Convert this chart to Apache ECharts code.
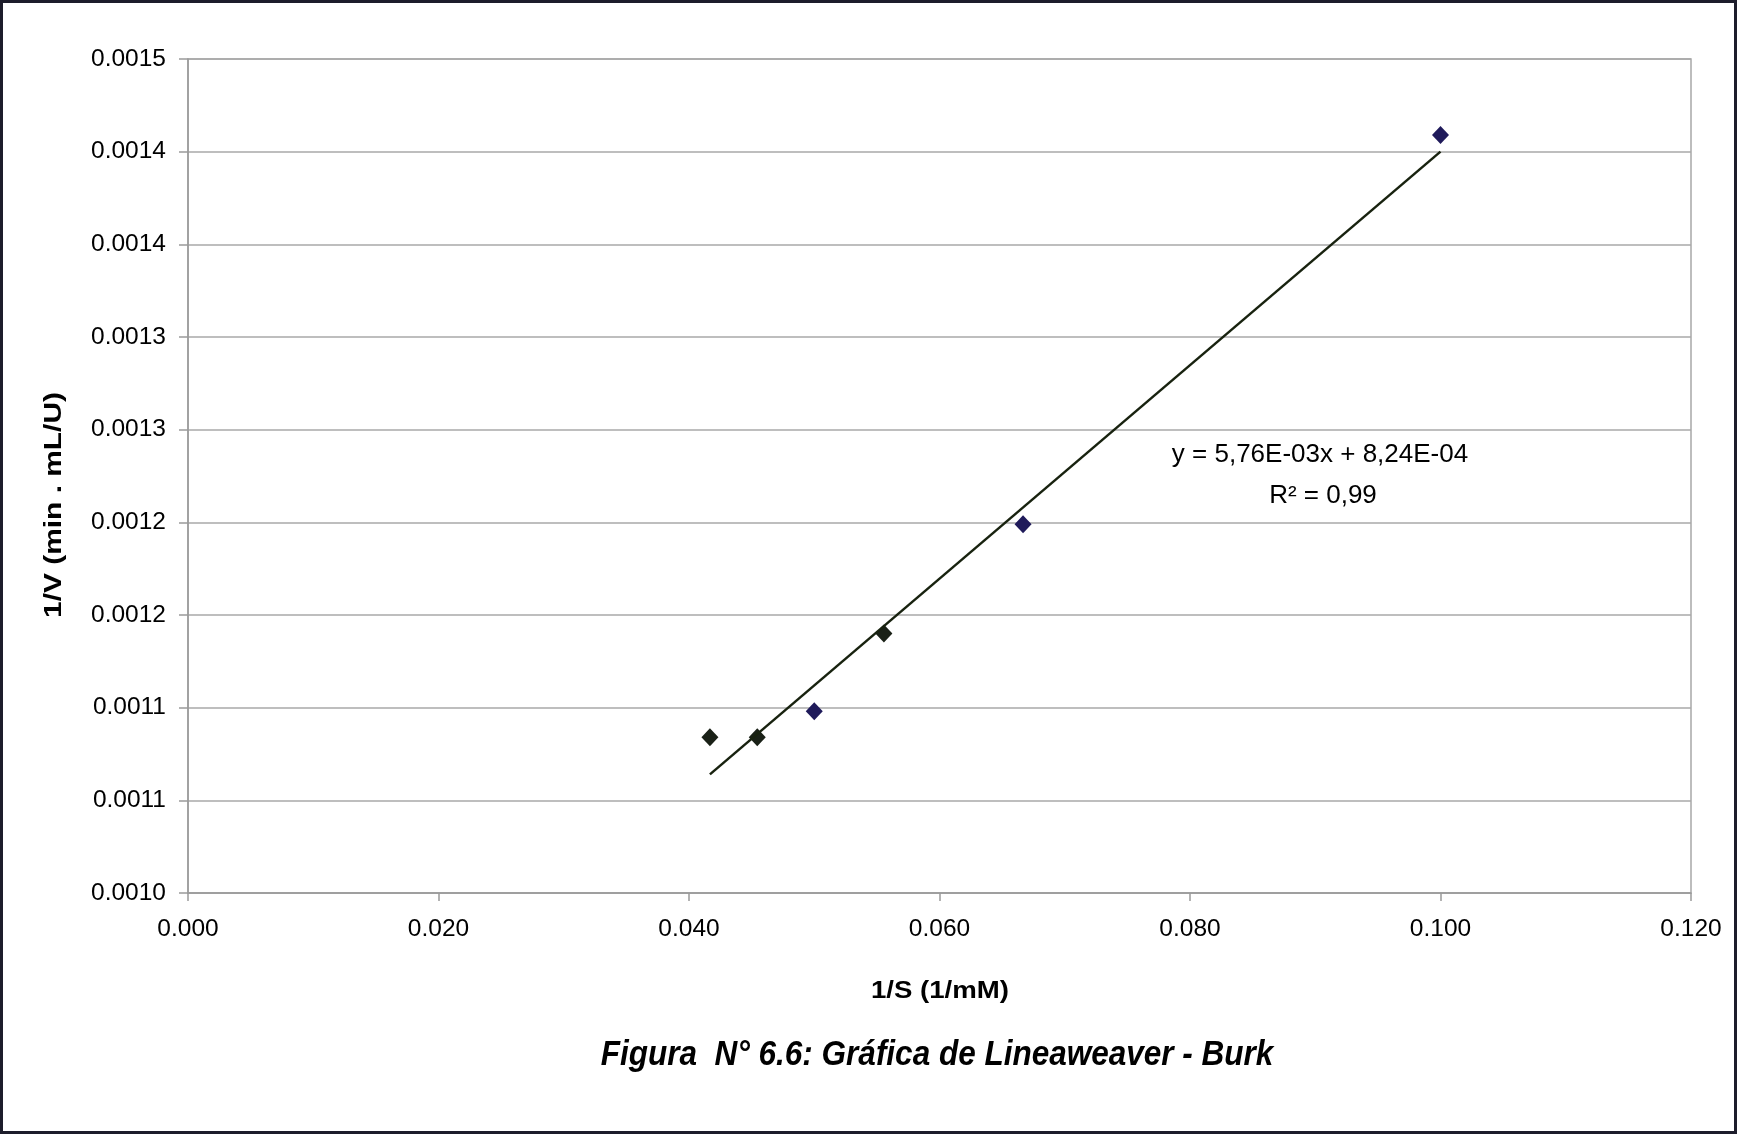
<!DOCTYPE html>
<html>
<head>
<meta charset="utf-8">
<title>Gráfica de Lineaweaver - Burk</title>
<script src="https://cdn.jsdelivr.net/npm/echarts@6/dist/echarts.min.js"></script>
<style>
  html, body { margin: 0; padding: 0; background: #ffffff; }
  #chart { width: 1737px; height: 1134px; }
</style>
</head>
<body>
<div id="chart"></div>
<script>
// Lineweaver-Burk plot: 1/S (1/mM) against 1/V (min . mL/U)
const invS = [0.04167, 0.04545, 0.05000, 0.05556, 0.06667, 0.10000];
const invV = [0.001084, 0.001084, 0.001098, 0.001140, 0.001199, 0.001409];

// Linear fit reported on the chart
const fitSlope = 5.76e-3;
const fitIntercept = 8.24e-4;
const fitR2 = 0.99;

// Axis ranges
const xMin = 0, xMax = 0.12, xStep = 0.02;
const yMin = 0.00100, yMax = 0.00145, yStep = 0.00005;

// Marker colours, one per point
const markerColors = ['#1a2117', '#1a2117', '#1f1a5a', '#1a2117', '#1f1a5a', '#1f1a5a'];

const FONT = '"Liberation Sans", Arial, Helvetica, sans-serif';

// Spreadsheet-style scientific notation with a decimal comma: 5,76E-03
function sciComma(v) {
  const parts = v.toExponential(2).split('e');
  const exp = parseInt(parts[1], 10);
  return parts[0].replace('.', ',') + 'E' + (exp < 0 ? '-' : '+') + String(Math.abs(exp)).padStart(2, '0');
}

const fitX0 = Math.min.apply(null, invS);
const fitX1 = Math.max.apply(null, invS);
const fitLine = [
  [fitX0, fitSlope * fitX0 + fitIntercept],
  [fitX1, fitSlope * fitX1 + fitIntercept]
];

const eqText = 'y = ' + sciComma(fitSlope) + 'x + ' + sciComma(fitIntercept);
const r2Text = 'R\u00B2 = ' + fitR2.toFixed(2).replace('.', ',');

const chart = echarts.init(document.getElementById('chart'), null, { renderer: 'canvas' });

chart.setOption({
  animation: false,
  backgroundColor: '#ffffff',
  textStyle: { fontFamily: FONT },
  grid: {
    left: 188, right: 46, top: 59, bottom: 241,
    show: true, borderColor: '#a8a8a8', borderWidth: 1.5,
    containLabel: false
  },
  xAxis: {
    type: 'value',
    min: xMin, max: xMax, interval: xStep,
    axisLine: { show: true, onZero: false, lineStyle: { color: '#9a9a9a', width: 1.5 } },
    axisTick: { show: true, length: 8, lineStyle: { color: '#9a9a9a', width: 1.5 } },
    axisLabel: {
      fontSize: 24.5, color: '#000000', fontFamily: FONT, margin: 24,
      formatter: v => v.toFixed(3)
    },
    splitLine: { show: false }
  },
  yAxis: {
    type: 'value',
    min: yMin, max: yMax, interval: yStep,
    axisLine: { show: true, onZero: false, lineStyle: { color: '#9a9a9a', width: 1.5 } },
    axisTick: { show: true, length: 9, lineStyle: { color: '#9a9a9a', width: 1.5 } },
    axisLabel: {
      fontSize: 24.5, color: '#000000', fontFamily: FONT, margin: 22,
      formatter: v => (Math.round(v * 1e4 + 1e-6) / 1e4).toFixed(4)
    },
    splitLine: { show: true, lineStyle: { color: '#a8a8a8', width: 1.5 } }
  },
  series: [
    {
      name: '1/V',
      type: 'scatter',
      symbol: 'diamond',
      symbolSize: [17, 18],
      z: 3,
      data: invS.map((x, i) => ({
        value: [x, invV[i]],
        itemStyle: { color: markerColors[i], opacity: 1 }
      }))
    },
    {
      name: 'Lineal',
      type: 'line',
      showSymbol: false,
      symbol: 'none',
      z: 4,
      lineStyle: { color: '#18220f', width: 2.5 },
      data: fitLine
    }
  ],
  graphic: [
    // outer frame of the figure
    {
      type: 'rect', silent: true, z: 10,
      shape: { x: 1.5, y: 1.5, width: 1734, height: 1131 },
      style: { fill: 'none', stroke: '#1d1d2b', lineWidth: 3 }
    },
    // y axis title
    {
      type: 'text', silent: true, x: 55, y: 505, rotation: Math.PI / 2, scaleX: 1.3,
      style: {
        text: '1/V (min . mL/U)', align: 'center', verticalAlign: 'middle',
        fontSize: 23, fontWeight: 'bold', fontFamily: FONT, fill: '#000000'
      }
    },
    // x axis title
    {
      type: 'text', silent: true, x: 940, y: 992, scaleX: 1.2,
      style: {
        text: '1/S (1/mM)', align: 'center', verticalAlign: 'middle',
        fontSize: 23, fontWeight: 'bold', fontFamily: FONT, fill: '#000000'
      }
    },
    // fit equation and R²
    {
      type: 'text', silent: true, x: 1320, y: 455,
      style: {
        text: eqText, align: 'center', verticalAlign: 'middle',
        fontSize: 26, fontFamily: FONT, fill: '#000000'
      }
    },
    {
      type: 'text', silent: true, x: 1323, y: 496,
      style: {
        text: r2Text, align: 'center', verticalAlign: 'middle',
        fontSize: 26, fontFamily: FONT, fill: '#000000'
      }
    },
    // figure caption
    {
      type: 'text', silent: true, x: 937, y: 1055, scaleX: 0.9,
      style: {
        text: 'Figura  N° 6.6: Gráfica de Lineaweaver - Burk', align: 'center', verticalAlign: 'middle',
        fontSize: 35, fontWeight: 'bold', fontStyle: 'italic', fontFamily: FONT, fill: '#000000'
      }
    }
  ]
});
</script>
</body>
</html>
